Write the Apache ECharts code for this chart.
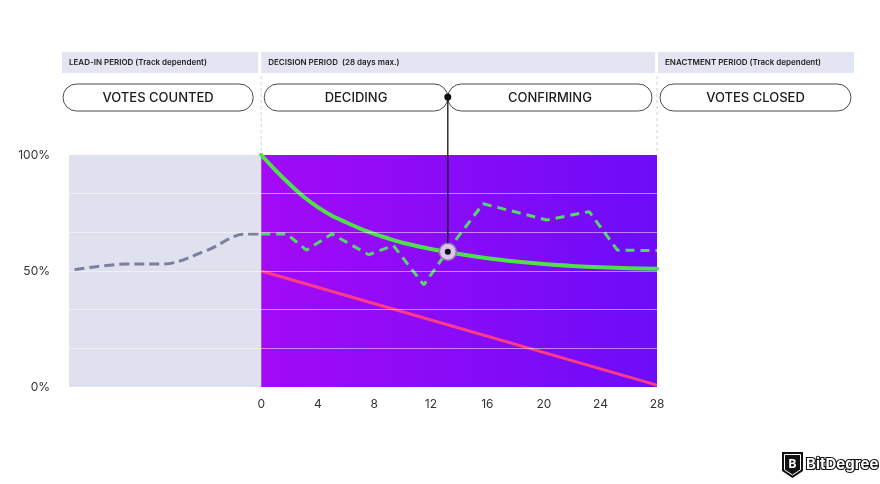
<!DOCTYPE html>
<html><head><meta charset="utf-8">
<script src="https://cdn.jsdelivr.net/npm/echarts@6/dist/echarts.min.js"></script>
<style>html,body{margin:0;padding:0;background:#fff}#c{width:880px;height:484px}</style>
</head><body><div id="c"></div>
<script>
// ---- data ----
const xTickLabels = [0, 4, 8, 12, 16, 20, 24, 28];
const yTickLabels = [0, 50, 100];
const gridValues = [16.667, 33.333, 50, 66.667, 83.333];
const leadInStart = -13.6, decisionEnd = 28;
const leadDays = [-13.2, -9.5, -7, -3.8, -1.1, 0];
const leadApproval = [50.5, 53, 53, 59, 66, 66];
const decDays = [0, 1.8, 3.2, 5, 7.6, 9.35, 11.5, 13.4, 15.7, 20.2, 23.2, 25.2, 28];
const decApproval = [66, 66, 59, 66, 57, 61, 44, 60.5, 79, 72, 75.6, 59, 58.8];
const threshDays = [0, 1, 2, 3, 4, 5, 6, 7, 8, 9, 10, 12, 14, 16, 18, 20, 22, 24, 26, 28];
const threshApproval = [100, 93.5, 87.5, 82, 77.5, 73.8, 71, 68.3, 66, 64, 62.2, 59.5, 57.3, 55.5, 54.1, 53, 52.2, 51.6, 51.2, 51];
const supportDays = [0, 28];
const supportValues = [50, 0.8];
const crossDay = 13.2, crossValue = 58.3;
const headerLabels = ['LEAD-IN PERIOD (Track dependent)', 'DECISION PERIOD  (28 days max.)', 'ENACTMENT PERIOD (Track dependent)'];
const pillLabels = ['VOTES COUNTED', 'DECIDING', 'CONFIRMING', 'VOTES CLOSED'];

const zip = (a, b) => a.map((v, i) => [v, b[i]]);
const FONT = 'Inter, "Noto Sans", sans-serif';

const chart = echarts.init(document.getElementById('c'), null, {renderer: 'canvas'});
const option = {
  animation: false,
  backgroundColor: '#fff',
  grid: {left: 69, right: 223, top: 155, bottom: 97},
  xAxis: {
    type: 'value', min: leadInStart, max: decisionEnd,
    axisLine: {show: false}, axisTick: {show: false}, splitLine: {show: false},
    axisLabel: {customValues: xTickLabels, color: '#333', fontSize: 12, fontFamily: FONT, margin: 11}
  },
  yAxis: {
    type: 'value', min: 0, max: 100, interval: 100 / 6,
    axisLine: {show: false}, axisTick: {show: false},
    splitLine: {show: false},
    axisLabel: {customValues: yTickLabels, formatter: v => Math.round(v) + '%', color: '#333', fontSize: 12, fontFamily: FONT, margin: 19}
  },
  series: [
    {
      type: 'line', z: 1, data: [[0, 0]], symbol: 'none', lineStyle: {opacity: 0}, silent: true,
      markArea: {
        silent: true,
        data: [
          [{xAxis: leadInStart, yAxis: 0, itemStyle: {color: '#dfe1ee'}}, {xAxis: 0, yAxis: 100}],
          [{xAxis: 0, yAxis: 0, itemStyle: {color: {type: 'linear', x: 0, y: 0, x2: 1, y2: 0,
            colorStops: [{offset: 0, color: '#a30af6'}, {offset: 1, color: '#6d0cf8'}]}}},
           {xAxis: decisionEnd, yAxis: 100}]
        ]
      },
      markLine: {
        silent: true, symbol: 'none', label: {show: false},
        lineStyle: {color: 'rgba(255,255,255,0.5)', width: 1, type: 'solid'},
        data: gridValues.map(v => ({yAxis: v}))
      }
    },
    {
      type: 'line', z: 3, data: zip(leadDays, leadApproval), smooth: 0.35, symbol: 'none',
      lineStyle: {color: '#7b7f9b', width: 3, type: [10, 5]}
    },
    {
      type: 'line', z: 3, data: zip(supportDays, supportValues), symbol: 'none',
      lineStyle: {color: '#ff3a86', width: 3}
    },
    {
      type: 'line', z: 3, data: zip(threshDays, threshApproval), smooth: 0.3, symbol: 'none',
      lineStyle: {color: '#4fe14a', width: 4, cap: 'round', join: 'round'}
    },
    {
      type: 'line', z: 3, data: zip(decDays, decApproval), symbol: 'none',
      lineStyle: {color: '#55d86a', width: 3, type: [9, 6]}
    },
    {
      type: 'scatter', z: 5, data: [[crossDay, crossValue]], symbolSize: 17,
      itemStyle: {color: '#dcc3f0', borderColor: '#8e7fa6', borderWidth: 1.5, opacity: 1}
    },
    {
      type: 'scatter', z: 6, data: [[crossDay, crossValue]], symbolSize: 6,
      itemStyle: {color: '#111', opacity: 1}
    }
  ]
};
chart.setOption(option);

// overlay graphics (headers, pills, separators, connector, logo)
const px = (x, y) => chart.convertToPixel({gridIndex: 0}, [x, y]);
const x0 = px(0, 0)[0], xEnd = px(decisionEnd, 0)[0], xStart = px(leadInStart, 0)[0];
const yTop = px(0, 100)[1];
const cross = px(crossDay, crossValue);
const g = [];
const boxes = [[xStart - 7, x0 - 3], [x0, xEnd - 2], [xEnd + 1, xEnd + 197]];
boxes.forEach((b, i) => {
  g.push({type: 'rect', shape: {x: b[0], y: 52, width: b[1] - b[0], height: 21}, style: {fill: '#e3e5f2'}});
  g.push({type: 'text', x: b[0] + 7, y: 63, style: {text: headerLabels[i], fill: '#222', font: '600 8px ' + FONT, textVerticalAlign: 'middle'}});
});
const pills = [[xStart - 6, x0 - 8], [x0 + 3, cross[0]], [cross[0], xEnd - 5], [xEnd + 3, xEnd + 194]];
pills.forEach((p, i) => {
  g.push({type: 'rect', shape: {x: p[0], y: 84, width: p[1] - p[0], height: 27, r: 13.5},
    style: {fill: 'none', stroke: '#4a4a4a', lineWidth: 1}});
  g.push({type: 'text', x: (p[0] + p[1]) / 2, y: 98, style: {text: pillLabels[i], fill: '#1a1a1a', font: '500 13px ' + FONT, textAlign: 'center', textVerticalAlign: 'middle'}});
});
[x0, xEnd].forEach(x => g.push({type: 'line', shape: {x1: x, y1: 76, x2: x, y2: yTop - 2},
  style: {stroke: '#d0d0d8', lineWidth: 1, lineDash: [3, 3]}}));
g.push({type: 'line', z: 10, shape: {x1: cross[0], y1: 97, x2: cross[0], y2: cross[1] - 8.5}, style: {stroke: '#111', lineWidth: 1.3}});
g.push({type: 'circle', z: 10, shape: {cx: cross[0], cy: 97, r: 3.5}, style: {fill: '#111'}});
// logo
g.push({type: 'polygon', shape: {points: [[782, 452], [803, 452], [803, 471], [792.5, 478], [782, 471]]}, style: {fill: '#111'}});
g.push({type: 'polygon', shape: {points: [[784.5, 454.5], [800.5, 454.5], [800.5, 469.8], [792.5, 475], [784.5, 469.8]]}, style: {fill: 'none', stroke: '#fff', lineWidth: 1}});
g.push({type: 'text', x: 792.5, y: 464, style: {text: 'B', fill: '#fff', font: 'bold 12px ' + FONT, textAlign: 'center', textVerticalAlign: 'middle'}});
g.push({type: 'text', x: 806, y: 464, style: {text: 'BitDegree', fill: '#fff', stroke: '#111', lineWidth: 2.2, font: 'bold 15px ' + FONT, textVerticalAlign: 'middle'}});
chart.setOption({graphic: {elements: g}});
</script>
</body></html>
